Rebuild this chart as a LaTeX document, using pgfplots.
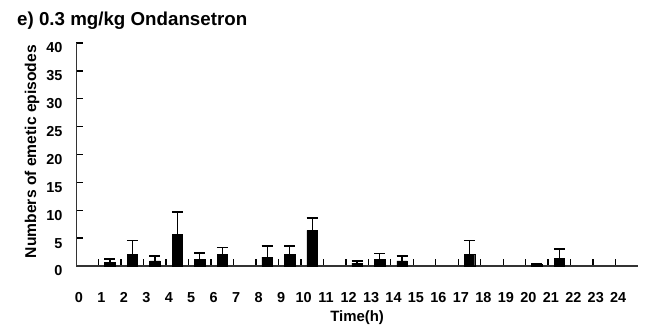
\documentclass[border=0pt]{standalone}
\usepackage{fontspec}
\setmainfont{Liberation Sans}
\usepackage{pgfplots}
\pgfplotsset{compat=1.18}
\begin{document}
\begin{tikzpicture}
\path[use as bounding box] (0,0) rectangle (650bp,329bp);
\node[anchor=base west, inner sep=0pt, font=\fontsize{18.8}{21}\selectfont\bfseries] at (17bp,303bp) {e) 0.3 mg/kg Ondansetron};
\begin{axis}[
  at={(76.2bp,63bp)}, anchor=south west,
  scale only axis, width=561.8bp, height=223bp,
  xmin=0, xmax=25, ymin=0, ymax=40,
  axis x line*=bottom, axis y line*=left,
  axis line style={-, line width=1.3bp, draw=black!80},
  tick align=inside, major tick length=7bp,
  tick style={line width=1.3bp, black},
  xtick={0,...,24}, ytick={0,5,...,40},
  /pgf/number format/assume math mode=true,
  ticklabel style={font=\fontsize{14.5}{16}\selectfont\bfseries},
  xticklabel style={anchor=base, inner sep=0pt, yshift=-36bp, xshift=2.7bp},
  yticklabel style={anchor=east, inner sep=0pt, xshift=-13.5bp, yshift=-5bp},
  xlabel={Time(h)},
  xlabel style={at={(axis description cs:0.5,0)}, anchor=base, inner sep=0pt, yshift=-55bp, font=\fontsize{15}{17}\selectfont\bfseries},
  ylabel={Numbers of emetic episodes},
  ylabel style={at={(axis description cs:-0.0712,0.513)}, anchor=base, inner sep=0pt, font=\fontsize{15.7}{17}\selectfont\bfseries},
  clip=false,
]
\addplot[ybar, bar width=10.5bp, fill=black, draw=black,
  error bars/.cd, y dir=plus, y explicit,
  error bar style={line width=1.3bp, black},
  error mark options={rotate=90, mark size=5.5bp, line width=1.3bp, black}]
  table[x=x, y=y, y error=e] {
x y e
1.5 0.6 0.65
2.5 2.1 2.5
3.5 0.9 0.9
4.5 5.7 4.0
5.5 1.15 1.2
6.5 2.1 1.2
8.5 1.6 2.0
9.5 2.1 1.5
10.5 6.4 2.2
12.5 0.5 0.4
13.5 1.2 1.1
14.5 0.9 0.9
17.5 2.1 2.5
20.5 0.35 0
21.5 1.35 1.7
};
\end{axis}
\end{tikzpicture}
\end{document}
